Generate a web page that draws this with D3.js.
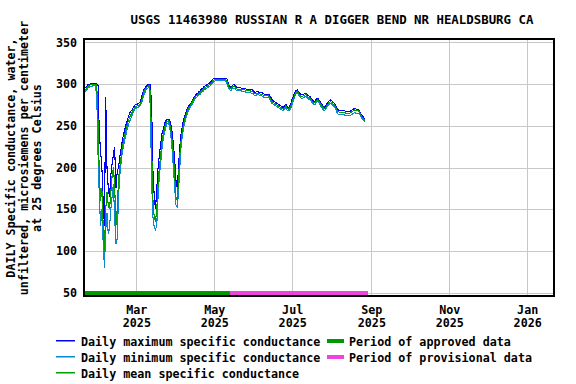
<!DOCTYPE html>
<html>
<head>
<meta charset="utf-8">
<script src="https://cdn.jsdelivr.net/npm/d3@7"></script>
<style>
  html, body { margin: 0; padding: 0; background: #fff; }
  svg text { font-family: "DejaVu Sans Mono", "Liberation Mono", monospace; font-weight: bold; fill: #000; }
</style>
</head>
<body>
<svg id="chart" width="576" height="384"></svg>
<script>
// ---------------- data ----------------
const title = "USGS 11463980 RUSSIAN R A DIGGER BEND NR HEALDSBURG CA";
const yLabelLines = ["DAILY Specific conductance, water,", "unfiltered, microsiemens per centimeter", "at 25 degrees Celsius"];
const firstDay = "2025-01-20";   // first daily value; one value per consecutive day
const xDomain = ["2025-01-19", "2026-01-22"];
const yDomain = [46, 354];
const yTicks = [50, 100, 150, 200, 250, 300, 350];
const xTickDates = ["2025-03-01", "2025-05-01", "2025-07-01", "2025-09-01", "2025-11-01", "2026-01-01"];
const xTickMonths = ["Mar", "May", "Jul", "Sep", "Nov", "Jan"];
const xTickYears = ["2025", "2025", "2025", "2025", "2025", "2026"];

const dailyMean = [
 293,295,297,298,299,299,300,300,300,298,
 255,190,160,175,130,100,150,170,155,150,
 170,190,200,180,130,150,185,200,212,225,
 233,240,246,252,257,261,264,267,270,272,
 273,274,274,276,280,285,291,294,296,297,
 298,290,220,160,140,135,150,180,200,215,
 230,240,247,252,255,256,254,245,232,215,
 190,165,160,185,215,232,244,252,258,263,
 268,271,274,276,279,282,284,286,287,289,
 290,292,293,295,296,297,298,299,300,302,
 304,305,305,305,305,305,305,305,305,305,
 305,303,298,295,294,296,297,297,295,294,
 294,294,294,293,293,293,292,292,292,292,
 291,291,289,288,289,289,289,288,288,287,
 286,286,286,286,285,282,279,278,277,276,
 275,274,273,272,271,270,272,274,271,270,
 271,274,279,283,287,290,291,289,287,285,
 285,286,287,287,285,284,283,281,279,277,
 278,280,281,279,277,274,272,270,271,274,
 276,278,279,278,276,275,272,269,267,266,
 266,266,266,266,265,265,265,265,266,267,
 268,269,268,268,268,265,262,260,258,256];

const dailyMax = [
 295,297,299,300,300,301,301,301,301,300,
 298,240,220,200,160,130,285,200,175,165,
 190,205,215,225,175,195,200,212,222,232,
 240,246,252,257,262,266,268,270,273,275,
 276,276,277,279,284,289,294,296,298,299,
 300,299,270,195,165,150,175,200,215,228,
 240,246,252,256,258,258,257,252,242,228,
 210,185,175,200,225,240,250,257,262,267,
 271,274,276,278,281,284,286,288,289,291,
 292,294,295,297,298,299,300,301,302,304,
 306,307,307,307,307,307,307,307,307,307,
 307,306,301,297,296,298,299,299,297,296,
 296,296,295,295,295,295,294,294,294,294,
 293,293,291,290,291,291,290,290,290,289,
 288,288,288,288,287,285,282,280,279,278,
 277,276,275,274,273,272,274,276,273,272,
 273,277,282,286,290,292,293,291,289,287,
 287,288,289,289,287,286,285,283,281,279,
 280,282,283,281,279,276,274,272,273,276,
 278,280,281,280,278,277,274,271,269,268,
 268,268,268,268,267,267,267,267,268,269,
 270,271,270,270,270,267,264,262,260,258];

const dailyMin = [
 291,293,295,296,297,297,298,298,298,285,
 215,165,130,150,110,80,125,145,120,128,
 150,165,180,140,108,115,165,190,205,218,
 226,234,240,247,252,256,260,264,267,270,
 271,272,273,274,277,282,287,291,294,295,
 296,270,180,140,128,125,132,165,190,205,
 222,234,242,248,252,253,250,238,222,200,
 175,155,153,170,200,225,238,248,254,260,
 265,269,272,274,277,280,282,284,285,287,
 288,290,291,293,294,295,296,297,298,300,
 302,303,304,304,304,304,304,304,304,304,
 304,300,296,293,292,294,295,295,293,292,
 292,292,292,291,291,291,290,290,290,290,
 289,289,287,286,287,287,287,286,286,285,
 284,284,284,284,283,280,277,276,275,274,
 273,272,271,270,269,268,270,272,269,268,
 269,271,276,280,285,288,289,287,285,283,
 283,284,285,285,283,282,281,279,277,275,
 276,278,279,277,275,272,270,268,269,272,
 274,276,277,276,274,273,270,266,264,263,
 263,263,263,263,262,262,262,262,263,264,
 265,266,265,265,265,263,260,258,256,255];

const approvedPeriod = ["2025-01-18", "2025-05-13"];
const provisionalPeriod = ["2025-05-13", "2025-08-29"];

const legendLines = [
  {label: "Daily maximum specific conductance", color: "#0000ff"},
  {label: "Daily minimum specific conductance", color: "#0a88d0"},
  {label: "Daily mean specific conductance", color: "#00a000"}
];
const legendBars = [
  {label: "Period of approved data", color: "#009900"},
  {label: "Period of provisional data", color: "#ee44dd"}
];

// ---------------- chart ----------------
(function () {
const svg = d3.select("#chart");
const pL = 84, pR = 554, pT = 39, pB = 296;
const parse = s => new Date(s + "T00:00:00Z");

const x = d3.scaleUtc().domain(xDomain.map(parse)).range([pL, pR]);
const y = d3.scaleLinear().domain(yDomain).range([pB, pT]);

const start = parse(firstDay);
const dayDate = i => d3.utcDay.offset(start, i);

svg.append("rect").attr("width", 576).attr("height", 384).attr("fill", "#fff");

// grid
const grid = svg.append("g").attr("shape-rendering", "crispEdges");
grid.selectAll("line.h").data(yTicks).join("line")
  .attr("x1", pL).attr("x2", pR)
  .attr("y1", d => Math.round(y(d)) + 0.5).attr("y2", d => Math.round(y(d)) + 0.5)
  .attr("stroke", "#c8c8c8").attr("stroke-width", 1);
grid.selectAll("line.v").data(xTickDates).join("line")
  .attr("y1", pT).attr("y2", pB)
  .attr("x1", d => Math.round(x(parse(d))) + 0.5).attr("x2", d => Math.round(x(parse(d))) + 0.5)
  .attr("stroke", "#c8c8c8").attr("stroke-width", 1);

// lines
svg.append("clipPath").attr("id", "clip").append("rect")
  .attr("x", pL).attr("y", pT).attr("width", pR - pL).attr("height", pB - pT);

function drawSeries(values, color) {
  const line = d3.line().x((d, i) => x(dayDate(i))).y(d => y(d));
  svg.append("path").datum(values)
    .attr("clip-path", "url(#clip)")
    .attr("fill", "none").attr("stroke", color).attr("stroke-width", 1.1)
    .attr("shape-rendering", "crispEdges")
    .attr("d", line);
}
drawSeries(dailyMax, legendLines[0].color);
drawSeries(dailyMin, legendLines[1].color);
drawSeries(dailyMean, legendLines[2].color);

// period bars
const barY = y(50);
[[approvedPeriod, legendBars[0].color], [provisionalPeriod, legendBars[1].color]].forEach(([p, c]) => {
  svg.append("line")
    .attr("x1", x(parse(p[0]))).attr("x2", x(parse(p[1])))
    .attr("y1", barY).attr("y2", barY)
    .attr("stroke", c).attr("stroke-width", 4)
    .attr("shape-rendering", "crispEdges");
});

// frame
svg.append("rect").attr("x", pL).attr("y", pT).attr("width", pR - pL).attr("height", pB - pT)
  .attr("fill", "none").attr("stroke", "#000").attr("stroke-width", 1.6)
  .attr("shape-rendering", "crispEdges");

// y axis labels
const yAxis = d3.axisLeft(y).tickValues(yTicks).tickSize(0).tickPadding(7);
const gy = svg.append("g").attr("transform", `translate(${pL},0)`).call(yAxis);
gy.select(".domain").remove();
gy.attr("font-family", null).attr("font-size", null);
gy.selectAll("text").style("font-size", "11.7px");

// x axis labels (two lines)
const xAxis = d3.axisBottom(x).tickValues(xTickDates.map(parse)).tickSize(0).tickFormat("");
const gx = svg.append("g").attr("transform", `translate(0,${pB})`).call(xAxis);
gx.select(".domain").remove();
gx.attr("font-family", null).attr("font-size", null);
gx.selectAll(".tick text").each(function(d, i) {
  const t = d3.select(this).attr("y", 0).attr("dy", null).style("font-size", "11.7px");
  t.append("tspan").attr("x", 0).attr("y", 18).text(xTickMonths[i]);
  t.append("tspan").attr("x", 0).attr("y", 31).text(xTickYears[i]);
});

// title
svg.append("text").attr("x", 332).attr("y", 24).attr("text-anchor", "middle")
  .style("font-size", "12.4px").text(title);

// y label
const yl = svg.append("text").attr("transform", "translate(0,158) rotate(-90)")
  .attr("text-anchor", "middle").style("font-size", "11.7px");
yLabelLines.forEach((s, i) => {
  yl.append("tspan").attr("x", 0).attr("y", 15 + i * 13).text(s);
});

// legend
const lg = svg.append("g");
legendLines.forEach((d, i) => {
  const ly = 341 + i * 16;
  lg.append("rect").attr("x", 56).attr("y", ly - 1).attr("width", 19).attr("height", 1.5)
    .attr("fill", d.color);
  lg.append("text").attr("x", 81).attr("y", ly + 4.5).style("font-size", "11.7px").text(d.label);
});
legendBars.forEach((d, i) => {
  const ly = 341 + i * 16;
  lg.append("rect").attr("x", 327).attr("y", ly - 2).attr("width", 17).attr("height", 4)
    .attr("fill", d.color);
  lg.append("text").attr("x", 349).attr("y", ly + 4.5).style("font-size", "11.7px").text(d.label);
});
})();
</script>
</body>
</html>
